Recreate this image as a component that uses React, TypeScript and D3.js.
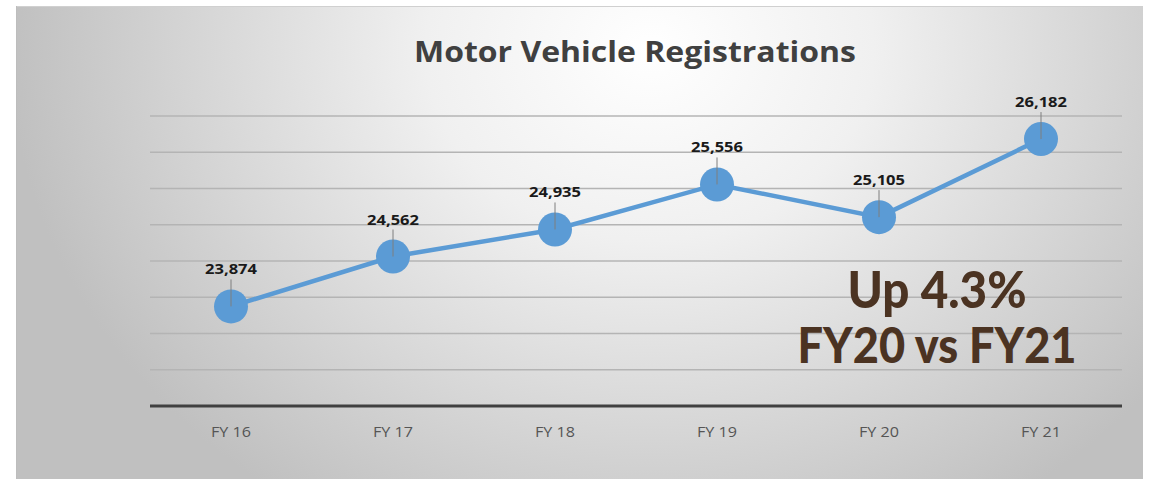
import React from "react";
import * as d3 from "d3";

const categories = ["FY 16", "FY 17", "FY 18", "FY 19", "FY 20", "FY 21"];
const values = [23874, 24562, 24935, 25556, 25105, 26182];
const yTicks = [23000, 23500, 24000, 24500, 25000, 25500, 26000, 26500];
const title = "Motor Vehicle Registrations";
const noteLines = ["Up 4.3%", "FY20 vs FY21"];

const W = 1152;
const H = 479;

export default function App() {
  const x = d3.scaleBand<string>().domain(categories).range([150, 1122]);
  const y = d3.scaleLinear().domain([22500, 26500]).range([406, 116]);
  const cx = (c: string) => (x(c) as number) + x.bandwidth() / 2;
  const line = d3
    .line<number>()
    .x((_, i) => cx(categories[i]))
    .y((d) => y(d));
  const fmt = d3.format(",");

  return (
    <svg
      width={W}
      height={H}
      style={{ position: "absolute", left: 0, top: 0, display: "block" }}
    >
      <defs>
        <radialGradient
          id="bg"
          gradientUnits="userSpaceOnUse"
          cx={650}
          cy={50}
          r={640}
          gradientTransform="translate(650 50) scale(1 0.85) translate(-650 -50)"
        >
          <stop offset="0" stopColor="#ffffff" />
          <stop offset="0.35" stopColor="#f0f0f0" />
          <stop offset="1" stopColor="#c0c0c0" />
        </radialGradient>
      </defs>
      <rect x={0} y={0} width={W} height={H} fill="#ffffff" />
      <rect x={16} y={6} width={1127} height={H} fill="url(#bg)" />
      <line x1={16} x2={1143} y1={6.5} y2={6.5} stroke="#d0d0d0" strokeWidth={1} />
      <line x1={16.5} x2={16.5} y1={6} y2={H} stroke="#bdbdbd" strokeWidth={1} />

      <text
        x={635}
        y={62}
        textAnchor="middle"
        fontFamily="'Open Sans', sans-serif"
        fontWeight={700}
        fontSize={29}
        fill="#404040"
        textLength={442}
        lengthAdjust="spacingAndGlyphs"
      >
        {title}
      </text>

      {yTicks.map((t) => (
        <line
          key={t}
          x1={150}
          x2={1122}
          y1={y(t)}
          y2={y(t)}
          stroke="#b4b4b4"
          strokeWidth={1.5}
        />
      ))}
      <line x1={150} x2={1122} y1={y(22500)} y2={y(22500)} stroke="#404040" strokeWidth={3} />

      {categories.map((c) => (
        <text
          key={c}
          x={cx(c)}
          y={437}
          textAnchor="middle"
          fontFamily="'Open Sans', sans-serif"
          fontSize={14}
          fill="#555555"
          textLength={40}
          lengthAdjust="spacingAndGlyphs"
        >
          {c}
        </text>
      ))}

      <path d={line(values) || ""} fill="none" stroke="#5b9bd5" strokeWidth={4.5} />
      {values.map((v, i) => (
        <circle key={i} cx={cx(categories[i])} cy={y(v)} r={17} fill="#5b9bd5" />
      ))}
      {values.map((v, i) => (
        <g key={"l" + i}>
          <line
            x1={cx(categories[i])}
            x2={cx(categories[i])}
            y1={y(v) - 27}
            y2={y(v)}
            stroke="#7f7f7f"
            strokeWidth={1}
          />
          <text
            x={cx(categories[i])}
            y={y(v) - 32}
            textAnchor="middle"
            fontFamily="'Open Sans', sans-serif"
            fontWeight={700}
            fontSize={13.5}
            fill="#1a1a1a"
            textLength={52}
            lengthAdjust="spacingAndGlyphs"
          >
            {fmt(v)}
          </text>
        </g>
      ))}

      <text
        x={937}
        y={308}
        textAnchor="middle"
        fontFamily="Lato, sans-serif"
        fontWeight={900}
        fontSize={52}
        fill="#4b3322"
        textLength={179}
        lengthAdjust="spacingAndGlyphs"
      >
        {noteLines[0]}
      </text>
      <text
        x={937}
        y={363}
        textAnchor="middle"
        fontFamily="Lato, sans-serif"
        fontWeight={900}
        fontSize={50}
        fill="#4b3322"
        textLength={279}
        lengthAdjust="spacingAndGlyphs"
      >
        {noteLines[1]}
      </text>
    </svg>
  );
}
